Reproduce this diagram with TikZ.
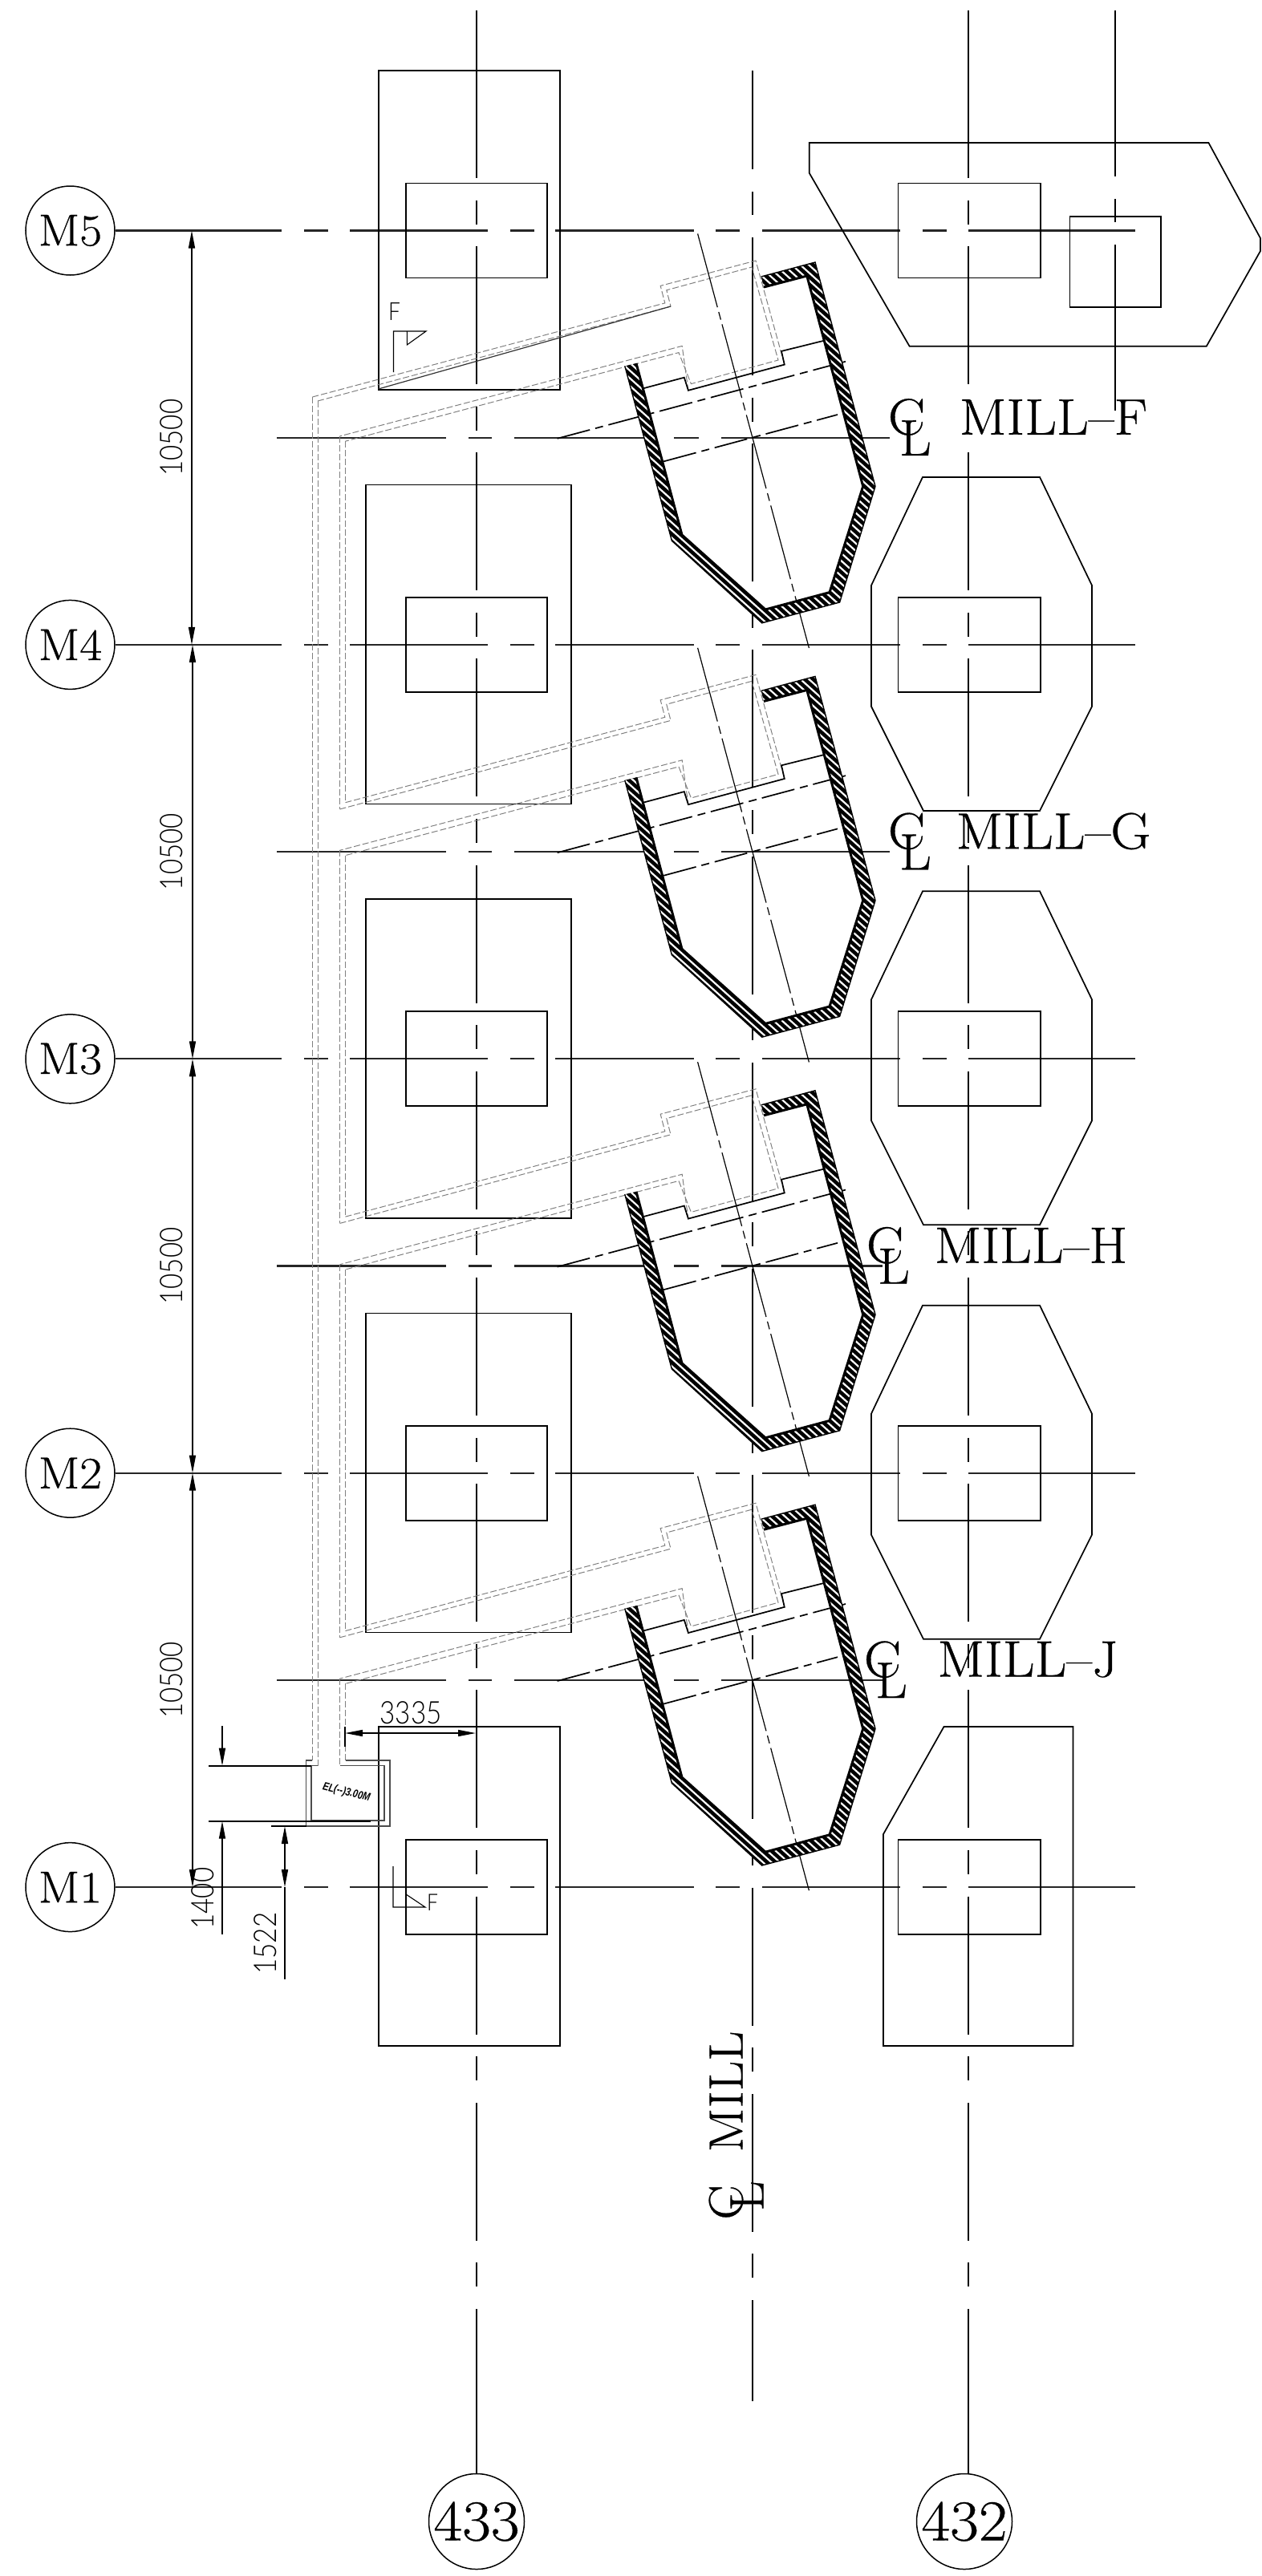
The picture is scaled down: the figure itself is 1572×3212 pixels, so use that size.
\documentclass[tikz,border=0pt]{standalone}
\usepackage{fontspec}
\usetikzlibrary{arrows.meta}
\newfontfamily\capfont[FakeBold=0.5,FakeStretch=1.08]{Latin Modern Roman}
\newfontfamily\dimfont[FakeStretch=0.85]{Lato Light}
\newfontfamily\elfont[FakeStretch=0.8]{Liberation Sans}
\newcommand{\bigtext}[1]{\fontsize{#1}{#1}\selectfont}
\tikzset{
	plan/.style={line width=1.7pt},
	axisline/.style={line width=2.2pt, color=black!85},
	centreline/.style={line width=1.7pt, dash pattern=on 172pt off 27.5pt on 30pt off 27.7pt},
	duct/.style={line width=1pt, color=black!50, dash pattern=on 8pt off 3pt},
	ductbox/.style={line width=1.2pt, color=black!70},
	dimline/.style={line width=1.5pt, arrows={{Triangle[length=22pt,width=8pt]}-{Triangle[length=22pt,width=8pt]}}},
	dimend/.style={line width=1.5pt, arrows={-{Triangle[length=22pt,width=8pt]}}},
	dimlabel/.style={font=\dimfont\bigtext{39}, inner sep=0pt},
	bubble/.style={circle, draw, line width=1.5pt, inner sep=0pt},
	milltext/.style={font=\capfont\bigtext{64}, inner sep=0pt},
}
\begin{document}
\begin{tikzpicture}[x=1pt,y=-1pt]
	\useasboundingbox (0,0) rectangle (1572,3212);

	\foreach \n/\r in {M5/287.5,M4/803.9,M3/1320.3,M2/1836.7,M1/2353.1}{
		\node[bubble, minimum size=111pt, font=\capfont\bigtext{56}] (\n) at (87.5,\r) {\n};
		\draw[axisline] (\n.east) -- (351,\r);
		\foreach \a/\b in {379/409,436/608,636/666,692/865,892/922,950/1122,1150/1180,1207/1415}
			\draw[axisline] (\a,\r) -- (\b,\r);
	}
	\foreach \r/\e in {545.7/1109,1062.1/1109,1578.5/1100,2094.9/1100}{
		\foreach \a/\b in {345/556,584/613,641/813,840/871,899/\e}
			\draw[axisline] (\a,\r) -- (\b,\r);
	}

	\node[bubble, minimum size=119pt, font=\capfont\bigtext{72}] (c433) at (594,3144) {433};
	\node[bubble, minimum size=119pt, font=\capfont\bigtext{72}] (c432) at (1202,3144) {432};
	\foreach \x in {594,1207}{
		\draw[plan] (\x,13) -- (\x,222) (\x,250) -- (\x,280);
		\draw[centreline] (\x,307) -- (\x,2851);
		\draw[plan] (\x,2879) -- (\x,3085);
	}
	\draw[plan] (938,88) -- (938,211) (938,239) -- (938,268);
	\draw[centreline] (938,296) -- (938,2841);
	\draw[plan] (938,2868) -- (938,2994);
	\draw[plan] (1390,13) -- (1390,220) (1390,248) -- (1390,277) (1390,305) -- (1390,512);

	\draw[plan] (472,88) rectangle (698,486);
	\draw[plan] (472,2153) rectangle (698,2551);
	\foreach \r in {604.6,1121,1637.4}
		\draw[plan] (456,\r) rectangle (712,\r+398);
	\foreach \r in {287.5,803.9,1320.3,1836.7,2353.1}{
		\draw[plan] (506,\r-59) rectangle (682,\r+59);
		\draw[plan] (1119.5,\r-59) rectangle (1297,\r+59);
	}
	\foreach \r in {803.9,1320.3,1836.7}
		\draw[plan] (1150,\r-209) -- (1296,\r-209) -- (1361,\r-74) -- (1361,\r+77) -- (1296,\r+207) -- (1151,\r+207) -- (1086,\r+77) -- (1086,\r-74) -- cycle;
	\draw[plan] (1101,2551) -- (1101,2287) -- (1176.5,2153) -- (1337.5,2153) -- (1337.5,2551) -- cycle;
	\draw[plan] (1008.7,178) -- (1506.4,178) -- (1571,297) -- (1571,313) -- (1503.8,431.7) -- (1133.6,431.7) -- (1008.7,215.7) -- cycle;
	\draw[plan] (1333.6,270) rectangle (1447,383);

	\draw[duct] (389.4,495) -- (389.4,2195);
	\draw[duct] (396,500) -- (396,2201.7);
	\foreach \r/\xa/\ya/\xb/\yb/\ea/\eb in {287.5/389.4/207.5/396/212.5/1009/1000.7,803.9/430.5/196.8/423.5/205.1/1525.4/1517.1,1320.3/430.5/196.8/423.5/205.1/2041.8/2033.5,1836.7/430.5/196.8/423.5/205.1/2201.7/2195}{
		\begin{scope}[shift={(0,\r)}]
			\draw[duct] (\xa,\ya) -- (828.8,90.4) -- (823.2,68.9) -- (942,37.5) -- (977.8,167.1) -- (857.9,199.3) -- (850.2,143.9) -- (423.5,256.4);
			\draw[duct] (\xb,\yb) -- (836,94.5) -- (830.8,74.3) -- (937,45.5) -- (970,161.5) -- (861.4,191.1) -- (846,152.1) -- (430.5,262.7);
			\draw[line width=1.2pt, dash pattern=on 95pt off 6pt on 10pt off 6pt] (869.6,3.9) -- (1008.4,520.5);
			\draw[line width=1.7pt, dash pattern=on 42pt off 7pt on 10pt off 7pt] (694.6,259.3) -- (1056.8,162.5);
			\draw[line width=1.7pt, dash pattern=on 42pt off 7pt on 10pt off 7pt] (827,287.9) -- (1044,229.5);
			\draw[plan] (801.7,196.8) -- (852.8,183.2) -- (857.9,199.3) -- (977.8,167.1) -- (974,150.4) -- (1026,137.5);
			\begin{scope}
				\clip (778.8,168.9) -- (837.4,386.8) -- (949.7,489.3) -- (1046.6,463.5) -- (1091,318.9) -- (1016,39.5) -- (948.7,57.5) -- (952,70.5) -- (1005.8,56.5) -- (1075.7,318.9) -- (1034,451.1) -- (954,472.5) -- (850,379.5) -- (793,165.5) -- cycle;
				\fill (760,20) rectangle (1110,510);
				\foreach \c in {-950,-940.5,...,-200}
					\draw[white, line width=2.2pt] (760,\c+684) -- (1110,\c+999);
			\end{scope}
			\draw[line width=1.4pt] (778.8,168.9) -- (837.4,386.8) -- (949.7,489.3) -- (1046.6,463.5) -- (1091,318.9) -- (1016,39.5) -- (948.7,57.5);
			\draw[line width=3pt] (793,165.5) -- (850,379.5) -- (954,472.5) -- (1034,451.1) -- (1075.7,318.9) -- (1005.8,56.5) -- (952,70.5);
		\end{scope}
		\draw[duct] (423.5,\r+256.4) -- (423.5,\ea);
		\draw[duct] (430.5,\r+262.7) -- (430.5,\eb);
	}
	\draw[line width=1.2pt, color=black!80] (471.6,485) -- (836,382);

	\draw[ductbox] (389.4,2195) -- (381.7,2195) -- (381.7,2277) -- (486,2277) -- (486,2195) -- (430.5,2195);
	\draw[ductbox] (396,2201.7) -- (388,2201.7) -- (388,2270) -- (479,2270) -- (479,2201.7) -- (423.5,2201.7);
	\node[font=\elfont\bfseries\itshape\bigtext{14}, inner sep=0pt, rotate=-14] (elev) at (431.7,2235) {EL(--)3.00M};

	\draw[line width=1.1pt] (490.5,464) -- (490.5,413) -- (531,413) -- (507.3,430) -- (507.3,413);
	\node[font=\dimfont\bigtext{31}, inner sep=0pt] (fup) at (491.5,389) {F};
	\draw[line width=1.1pt] (490,2327) -- (490,2378) -- (530,2378) -- (505.7,2361.7) -- (505.7,2378);
	\node[font=\dimfont\bigtext{29}, inner sep=0pt] (fdown) at (539,2372) {F};

	\draw[dimline] (239,287.5) -- (239,803.9);
	\draw[dimline] (240,803.9) -- (240,1320.3);
	\draw[dimline] (240,1320.3) -- (240,1836.7);
	\draw[dimline] (240,1836.7) -- (240,2353.1);
	\foreach \y/\n in {545.7/a,1062.1/b,1578.5/c,2094.9/d}
		\node[dimlabel, rotate=90] (dim\n) at (214,\y) {10500};

	\draw[line width=1.5pt] (430,2153) -- (430,2178);
	\draw[dimline] (430,2161) -- (593,2161);
	\node[dimlabel] (d3335) at (512,2136) {3335};

	\draw[plan] (260,2201.7) -- (388,2201.7) (260,2270.7) -- (461.7,2270.7);
	\draw[dimend] (277,2152) -- (277,2201.7);
	\draw[dimend] (277,2412) -- (277,2270.7);
	\node[dimlabel, rotate=90] (d1400) at (253,2367) {1400};

	\draw[plan] (338,2277) -- (381.7,2277);
	\draw[dimline] (355,2277) -- (355,2353.1);
	\draw[line width=1.5pt] (355,2353.1) -- (355,2468);
	\node[dimlabel, rotate=90] (d1522) at (331,2423) {1522};

	\foreach \y/\t/\cx/\mx in {520/F/1130/1313,1036.4/G/1130/1313,1552.8/H/1103/1285,2069.2/J/1100/1281}{
		\node[milltext] (c\t) at (\cx,\y) {C};
		\node[milltext] (l\t) at (\cx+11,\y+26) {L};
		\node[milltext] (m\t) at (\mx,\y) {MILL–\t};
	}
	\node[milltext, rotate=90, font=\capfont\bigtext{60}] (cmill) at (905,2746) {C};
	\node[milltext, rotate=90, font=\capfont\bigtext{60}] (lmill) at (931,2738) {L};
	\node[milltext, rotate=90, font=\capfont\bigtext{60}] (mmill) at (905,2608) {MILL};
\end{tikzpicture}
\end{document}
